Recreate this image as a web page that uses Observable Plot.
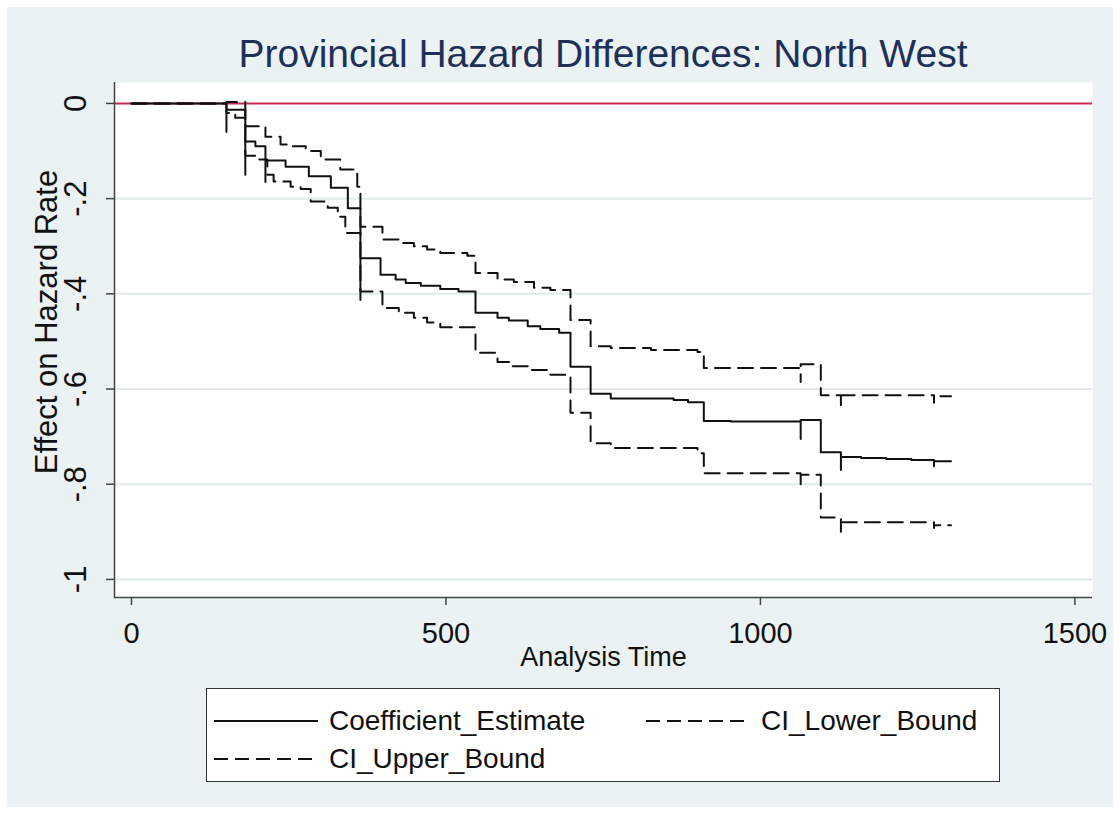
<!DOCTYPE html>
<html>
<head>
<meta charset="utf-8">
<script src="https://cdn.jsdelivr.net/npm/d3@7"></script>
<script src="https://cdn.jsdelivr.net/npm/@observablehq/plot@0.6"></script>
<style>
  html, body { margin: 0; padding: 0; background: #ffffff; overflow: hidden; }
  #page { position: absolute; left: 7px; top: 7px; width: 1106px; height: 800px; background: #eaf2f3; }
  #wrap { position: absolute; left: 0; top: 0; width: 1120px; height: 814px; font-family: "Liberation Sans", Arial, Helvetica, sans-serif; }
  #title { position: absolute; left: 114px; width: 978px; top: 34px; text-align: center; font-size: 39px; line-height: 39px; color: #1f3058; white-space: nowrap; }
  #chart { position: absolute; left: 0; top: 0; }
  #legend { position: absolute; left: 206px; top: 688px; width: 794px; height: 94px; box-sizing: border-box; border: 1.5px solid #333; background: #fff; }
  .item { position: absolute; height: 34px; display: flex; align-items: center; font-size: 28px; color: #111; white-space: nowrap; }
  .item svg { margin-right: 11px; }
</style>
</head>
<body>
<div id="page"></div>
<div id="wrap">
  <div id="title">Provincial Hazard Differences: North West</div>
  <div id="chart"></div>
  <div id="legend"></div>
</div>
<script>
// ---- data ----
const estTime   = [0, 151, 151, 181, 181, 197, 213, 213, 245, 282, 317, 344, 364, 364, 396, 420, 436, 460, 491, 520, 547, 582, 600, 630, 650, 680, 698, 730, 762, 862, 885, 910, 953, 1064, 1064, 1096, 1128, 1128, 1160, 1200, 1240, 1276, 1276, 1303];
const estValue  = [0, -0.06, -0.013, -0.15, -0.08, -0.09, -0.165, -0.12, -0.133, -0.153, -0.177, -0.22, -0.413, -0.325, -0.36, -0.37, -0.377, -0.383, -0.39, -0.395, -0.44, -0.45, -0.456, -0.468, -0.474, -0.482, -0.553, -0.61, -0.62, -0.623, -0.628, -0.667, -0.668, -0.705, -0.665, -0.733, -0.77, -0.743, -0.745, -0.747, -0.749, -0.762, -0.752, -0.752];

const upperTime  = [0, 151, 181, 213, 237, 253, 277, 301, 332, 359, 364, 399, 425, 449, 470, 491, 534, 547, 582, 608, 640, 666, 698, 730, 762, 826, 900, 910, 1064, 1064, 1096, 1128, 1128, 1276, 1276, 1303];
const upperValue = [0, 0.003, -0.048, -0.07, -0.086, -0.09, -0.1, -0.118, -0.139, -0.175, -0.259, -0.286, -0.293, -0.3, -0.307, -0.314, -0.32, -0.356, -0.37, -0.375, -0.387, -0.392, -0.455, -0.51, -0.514, -0.518, -0.522, -0.556, -0.585, -0.548, -0.613, -0.634, -0.613, -0.629, -0.615, -0.615];

const lowerTime  = [0, 151, 165, 181, 197, 216, 226, 253, 269, 285, 312, 328, 340, 364, 399, 425, 449, 470, 491, 547, 582, 605, 630, 666, 698, 730, 762, 900, 910, 1064, 1064, 1096, 1128, 1128, 1276, 1276, 1303];
const lowerValue = [0, -0.02, -0.03, -0.11, -0.118, -0.15, -0.164, -0.175, -0.18, -0.206, -0.219, -0.238, -0.272, -0.395, -0.43, -0.44, -0.45, -0.46, -0.47, -0.524, -0.543, -0.552, -0.56, -0.57, -0.65, -0.714, -0.724, -0.735, -0.777, -0.806, -0.78, -0.87, -0.9, -0.88, -0.892, -0.886, -0.886];

const xTicks = [0, 500, 1000, 1500];
const yTicks = [0, -0.2, -0.4, -0.6, -0.8, -1];
const xDomain = [-27, 1528];
const yDomain = [-1.038, 0.044];
const refLine = [0];
const legendLabels = ["Coefficient_Estimate", "CI_Lower_Bound", "CI_Upper_Bound"];
const xTitle = "Analysis Time";
const yTitle = "Effect on Hazard Rate";

// ---- build tables ----
const est = estTime.map((t, i) => ({t, v: estValue[i]}));
const upper = upperTime.map((t, i) => ({t, v: upperValue[i]}));
const lower = lowerTime.map((t, i) => ({t, v: lowerValue[i]}));

const ink = "#111111";
const axisInk = "#444444";
const dash = "15,8";
const yFmt = d => { const s = String(+d.toFixed(1)); return s.replace("0.", "."); };
const xFmt = d3.format("d");

const chart = Plot.plot({
  width: 1120,
  height: 680,
  marginLeft: 114,
  marginRight: 28,
  marginTop: 82,
  marginBottom: 83,
  x: {domain: xDomain},
  y: {domain: yDomain},
  style: {background: "transparent", fontFamily: "'Liberation Sans', Arial, Helvetica, sans-serif", color: ink, overflow: "visible"},
  marks: [
    Plot.frame({fill: "white", stroke: "none"}),
    Plot.gridY(yTicks.filter(d => d !== 0), {stroke: "#e3eaeb", strokeOpacity: 1, strokeWidth: 2}),
    Plot.ruleY(refLine, {stroke: "#c92a55", strokeWidth: 2}),
    Plot.line(est, {x: "t", y: "v", curve: "step-after", stroke: ink, strokeWidth: 2}),
    Plot.line(lower, {x: "t", y: "v", curve: "step-after", stroke: ink, strokeWidth: 2, strokeDasharray: dash}),
    Plot.line(upper, {x: "t", y: "v", curve: "step-after", stroke: ink, strokeWidth: 2, strokeDasharray: dash}),
    Plot.ruleX([xDomain[0]], {stroke: axisInk, strokeWidth: 1.5}),
    Plot.ruleY([yDomain[0]], {stroke: axisInk, strokeWidth: 1.5}),
    Plot.axisX({ticks: xTicks, tickSize: 8, tickPadding: 17, fontSize: 29, tickFormat: xFmt, label: null, stroke: axisInk, strokeWidth: 1.5}),
    Plot.axisY({ticks: yTicks, tickSize: 8, tickRotate: -90, tickPadding: 21, fontSize: 31, tickFormat: yFmt, label: null, stroke: axisInk, strokeWidth: 1.5}),
    Plot.text([xTitle], {frameAnchor: "bottom", dy: 60, lineAnchor: "middle", fontSize: 27, fill: ink}),
    Plot.text([yTitle], {frameAnchor: "left", dx: -67, dy: -18, rotate: -90, textAnchor: "middle", lineAnchor: "middle", fontSize: 31, fill: ink})
  ]
});
document.getElementById("chart").appendChild(chart);

// ---- legend ----
const legend = document.getElementById("legend");
const items = [
  {label: legendLabels[0], dashed: false, left: 7, top: 15},
  {label: legendLabels[1], dashed: true, left: 439, top: 15},
  {label: legendLabels[2], dashed: true, left: 7, top: 53}
];
items.forEach(it => {
  const div = document.createElement("div");
  div.className = "item";
  div.style.left = it.left + "px";
  div.style.top = it.top + "px";
  const svg = d3.create("svg").attr("width", 104).attr("height", 6);
  svg.append("line").attr("x1", 0).attr("x2", 104).attr("y1", 3).attr("y2", 3)
    .attr("stroke", ink).attr("stroke-width", 2)
    .attr("stroke-dasharray", it.dashed ? "14,7" : null);
  div.appendChild(svg.node());
  const span = document.createElement("span");
  span.textContent = it.label;
  div.appendChild(span);
  legend.appendChild(div);
});
</script>
</body>
</html>
